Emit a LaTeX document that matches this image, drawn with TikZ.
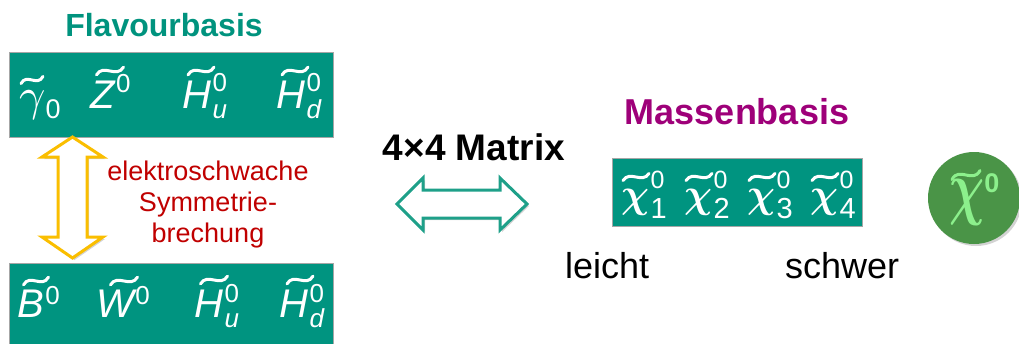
\documentclass[tikz,border=0pt]{standalone}
\usepackage{fontspec}
\setmainfont{Liberation Sans}
\usetikzlibrary{shadows}
\definecolor{boxteal}{RGB}{0,148,128}
\definecolor{tealtxt}{RGB}{0,147,126}
\definecolor{purp}{RGB}{158,0,121}
\definecolor{darkred}{RGB}{192,0,0}
\definecolor{yel}{RGB}{250,190,0}
\definecolor{arrteal}{RGB}{30,160,137}
\definecolor{circg}{RGB}{74,148,71}
\definecolor{lightg}{RGB}{140,240,140}
% sup/sub stacked: #1 sup, #2 sub, #3 raise, #4 lower, #5 size
\newcommand\supsub[5]{\kern1.5pt\rlap{\raisebox{#3}{\fontsize{#5}{#5}\selectfont\upshape #1}}\raisebox{-#4}{\fontsize{#5}{#5}\selectfont #2}}
\newcommand\bigmath[3]{\scalebox{#1}[#2]{\normalsize$#3$}}
\newcommand\bigboldmath[3]{\scalebox{#1}[#2]{\normalsize\boldmath$#3$}}
\tikzset{
  tld/.pic={\draw[line width=3pt, line cap=round] (-0.5,0.3) .. controls (-0.25,-0.6) and (0.25,0.6) .. (0.5,-0.3);},
}
\begin{document}
\begin{tikzpicture}[x=1pt,y=-1pt,
  basisbox/.style={draw=gray!70, line width=0.8pt, fill=boxteal, inner sep=0pt},
  sym/.style={text=white, inner sep=0pt, anchor=base west, font=\fontsize{40}{40}\selectfont\itshape},
  chisym/.style={text=white, inner sep=0pt, anchor=base west},
  title/.style={inner sep=0pt, anchor=base, font=\fontsize{34}{34}\selectfont\bfseries},
  plain/.style={inner sep=0pt, anchor=base west, font=\fontsize{36}{36}\selectfont},
  shad/.style={drop shadow={opacity=0.35, shadow xshift=2pt, shadow yshift=-2pt}},
]
\useasboundingbox (0,0) rectangle (1019,343);

% titles
\node[title, text=tealtxt, font=\fontsize{32}{32}\selectfont\bfseries] (flavtitle) at (164,36) {Flavourbasis};
\node[title, text=purp, font=\fontsize{36}{36}\selectfont\bfseries] (masstitle) at (737,124) {Massenbasis};
\node[title, text=black, font=\fontsize{37}{37}\selectfont\bfseries] (matrix) at (474,160) {4×4 Matrix};

% flavour boxes
\node[basisbox, minimum width=324, minimum height=85, anchor=north west] (top) at (9,52) {};
\node[basisbox, minimum width=324, minimum height=90, anchor=north west] (bot) at (9,263) {};

% top symbols
\node[sym] (gam) at (19,110) {\bigmath{4.6}{4.6}{\gamma}\raisebox{-8pt}{\fontsize{27}{27}\selectfont\upshape 0}};
\node[sym] (Z) at (90,108) {Z\supsub{0}{}{16pt}{10pt}{26}};
\node[sym] (Hu) at (182,108) {H\supsub{0}{u}{17pt}{10pt}{26}};
\node[sym] (Hd) at (276,108) {H\supsub{0}{d}{17pt}{10pt}{26}};
\pic[white, xscale=22, yscale=12] at (32,80) {tld};
\pic[white, xscale=27, yscale=13] at (110,71) {tld};
\pic[white, xscale=26, yscale=13] at (201,71) {tld};
\pic[white, xscale=26, yscale=13] at (295,71) {tld};

% bottom symbols
\node[sym] (B) at (17,317) {B\supsub{0}{}{13pt}{10pt}{26}};
\node[sym] (W) at (96,317) {W\supsub{0}{}{13pt}{10pt}{26}};
\node[sym] (Hu2) at (194,317) {H\supsub{0}{u}{15pt}{10pt}{26}};
\node[sym] (Hd2) at (279,317) {H\supsub{0}{d}{15pt}{10pt}{26}};
\pic[white, xscale=25, yscale=13] at (36,281) {tld};
\pic[white, xscale=27, yscale=13] at (124,281) {tld};
\pic[white, xscale=27, yscale=13] at (214,280) {tld};
\pic[white, xscale=26, yscale=13] at (300,280) {tld};

% yellow double arrow
\draw[yel, line width=3pt, fill=white, line join=miter, shad]
  (72.5,137) -- (103,157) -- (87,157) -- (87,237) -- (103,237) -- (72.5,258)
  -- (42,237) -- (58,237) -- (58,157) -- (42,157) -- cycle;
\node[inner sep=0pt, align=center, text=darkred, font=\fontsize{27}{31}\selectfont] (esb) at (208,205)
  {elektroschwache\\Symmetrie-\\brechung};

% teal double arrow
\draw[arrteal, line width=3pt, fill=white, line join=miter, shad]
  (397,204) -- (423,178) -- (423,190) -- (500,190) -- (500,178) -- (527,204)
  -- (500,230) -- (500,218) -- (423,218) -- (423,230) -- cycle;

% mass box
\node[basisbox, minimum width=250, minimum height=68, anchor=north west] (mass) at (612,158) {};
\foreach \i [count=\k from 0] in {1,2,3,4}{
  \node[chisym] (chi\i) at (621+63*\k,207) {\bigboldmath{3.9}{4.1}{\chi}\supsub{\fontsize{25}{25}\selectfont 0}{\i}{19pt}{11pt}{29}};
  \pic[white, xscale=26, yscale=12] at (636+63*\k,177) {tld};
}

\node[plain] (leicht) at (565,278) {leicht};
\node[plain] (schwer) at (785,278) {schwer};

% circle
\node[circle, fill=circg, minimum size=92, inner sep=0pt, shad] (circ) at (974,198) {};
\node[inner sep=0pt, anchor=base west, text=lightg] (chic) at (949,211)
  {\bigboldmath{4.9}{7.2}{\chi}\raisebox{19pt}{\fontsize{27}{27}\selectfont\bfseries 0}};
\pic[lightg, xscale=28, yscale=15, line width=4pt] at (966,175) {tld};
\end{tikzpicture}
\end{document}
